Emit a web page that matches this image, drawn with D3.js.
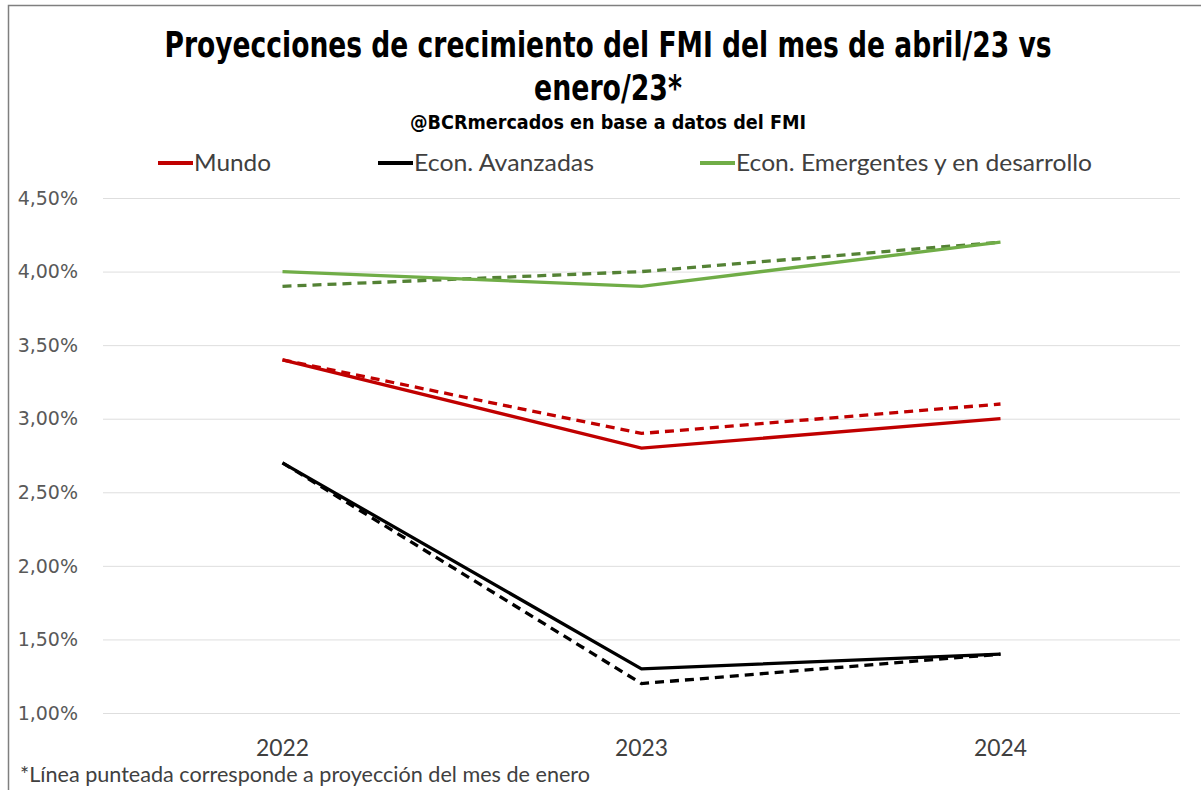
<!DOCTYPE html>
<html>
<head>
<meta charset="utf-8">
<script src="https://cdn.jsdelivr.net/npm/d3@7"></script>
<style>
  body { margin: 0; background: #fff; }
  .grid line { stroke: #dedede; stroke-width: 1; }
  .grid .domain { display: none; }
</style>
</head>
<body>
<svg id="chart" width="1201" height="790"></svg>
<script>
var years = ["2022", "2023", "2024"];
var yTicks = [1.0, 1.5, 2.0, 2.5, 3.0, 3.5, 4.0, 4.5];
var seriesNames = ["Mundo", "Econ. Avanzadas", "Econ. Emergentes y en desarrollo"];
// abril/23 (linea continua)
var mundoAbr = [3.4, 2.8, 3.0];
var avanzAbr = [2.7, 1.3, 1.4];
var emergAbr = [4.0, 3.9, 4.2];
// enero/23 (linea punteada)
var mundoEne = [3.4, 2.9, 3.1];
var avanzEne = [2.7, 1.2, 1.4];
var emergEne = [3.9, 4.0, 4.2];

var svg = d3.select("#chart");

// marco
svg.append("rect")
    .attr("x", 8.5).attr("y", 5.5)
    .attr("width", 1200).attr("height", 800)
    .attr("fill", "none").attr("stroke", "#7f7f7f").attr("stroke-width", 1.5);

var plotLeft = 103, plotRight = 1180, plotTop = 198, plotBottom = 713;

var x = d3.scalePoint().domain(years).range([plotLeft, plotRight]).padding(0.5);
var y = d3.scaleLinear().domain([1.0, 4.5]).range([plotBottom, plotTop]);

// grid
svg.append("g")
    .attr("class", "grid")
    .attr("transform", "translate(" + plotLeft + ",0)")
    .call(d3.axisRight(y).tickValues(yTicks).tickSize(plotRight - plotLeft).tickFormat(""));

// etiquetas eje y
svg.selectAll(".ylab")
    .data(yTicks)
    .enter().append("text")
    .attr("class", "ylab")
    .attr("x", 78)
    .attr("y", function (d) { return y(d); })
    .attr("dy", "0.35em")
    .attr("text-anchor", "end")
    .style("font-family", "DejaVu Sans")
    .style("font-size", "19px")
    .attr("fill", "#595959")
    .text(function (d) { return d.toFixed(2).replace(".", ",") + "%"; });

// etiquetas eje x
svg.selectAll(".xlab")
    .data(years)
    .enter().append("text")
    .attr("class", "xlab")
    .attr("x", function (d) { return x(d); })
    .attr("y", 756)
    .attr("text-anchor", "middle")
    .attr("textLength", 53).attr("lengthAdjust", "spacingAndGlyphs")
    .style("font-family", "Lato")
    .style("font-size", "23px")
    .attr("fill", "#404040")
    .text(function (d) { return d; });

var line = d3.line()
    .x(function (d, i) { return x(years[i]); })
    .y(function (d) { return y(d); });

var lines = [
    { v: emergEne, c: "#548235", dash: "9,6" },
    { v: mundoEne, c: "#c00000", dash: "9,6" },
    { v: avanzEne, c: "#000000", dash: "9,6" },
    { v: emergAbr, c: "#70ad47", dash: null },
    { v: mundoAbr, c: "#c00000", dash: null },
    { v: avanzAbr, c: "#000000", dash: null }
];

svg.selectAll(".serie")
    .data(lines)
    .enter().append("path")
    .attr("class", "serie")
    .attr("d", function (d) { return line(d.v); })
    .attr("fill", "none")
    .attr("stroke", function (d) { return d.c; })
    .attr("stroke-width", 3.3)
    .attr("stroke-dasharray", function (d) { return d.dash; });

// titulo
var titleFont = "'DejaVu Sans Condensed', 'Liberation Sans', sans-serif";
svg.append("text")
    .attr("x", 608).attr("y", 57)
    .attr("text-anchor", "middle")
    .attr("textLength", 887).attr("lengthAdjust", "spacingAndGlyphs")
    .style("font-family", titleFont)
    .style("font-size", "35px")
    .attr("font-weight", "bold")
    .text("Proyecciones de crecimiento del FMI del mes de abril/23 vs");

svg.append("text")
    .attr("x", 608).attr("y", 100)
    .attr("text-anchor", "middle")
    .attr("textLength", 148).attr("lengthAdjust", "spacingAndGlyphs")
    .style("font-family", titleFont)
    .style("font-size", "35px")
    .attr("font-weight", "bold")
    .text("enero/23*");

svg.append("text")
    .attr("x", 608).attr("y", 129)
    .attr("text-anchor", "middle")
    .attr("textLength", 396).attr("lengthAdjust", "spacingAndGlyphs")
    .style("font-family", titleFont)
    .style("font-size", "20px")
    .attr("font-weight", "bold")
    .text("@BCRmercados en base a datos del FMI");

// leyenda
var legendX = [158, 378, 700];
var legendW = [77, 180, 356];
var legendCol = ["#c00000", "#000000", "#70ad47"];
var lg = svg.selectAll(".leg")
    .data(seriesNames)
    .enter().append("g")
    .attr("class", "leg")
    .attr("transform", function (d, i) { return "translate(" + legendX[i] + ",163)"; });

lg.append("line")
    .attr("x1", 0).attr("x2", 35)
    .attr("stroke", function (d, i) { return legendCol[i]; })
    .attr("stroke-width", 4);

lg.append("text")
    .attr("x", 36)
    .attr("dy", "0.35em")
    .attr("textLength", function (d, i) { return legendW[i]; })
    .attr("lengthAdjust", "spacingAndGlyphs")
    .style("font-family", "Lato")
    .style("font-size", "23px")
    .attr("fill", "#404040")
    .text(function (d) { return d; });

// nota
svg.append("text")
    .attr("x", 20).attr("y", 782)
    .attr("textLength", 570).attr("lengthAdjust", "spacingAndGlyphs")
    .style("font-family", "Lato")
    .style("font-size", "21px")
    .attr("fill", "#404040")
    .text("*Línea punteada corresponde a proyección del mes de enero");
</script>
</body>
</html>
